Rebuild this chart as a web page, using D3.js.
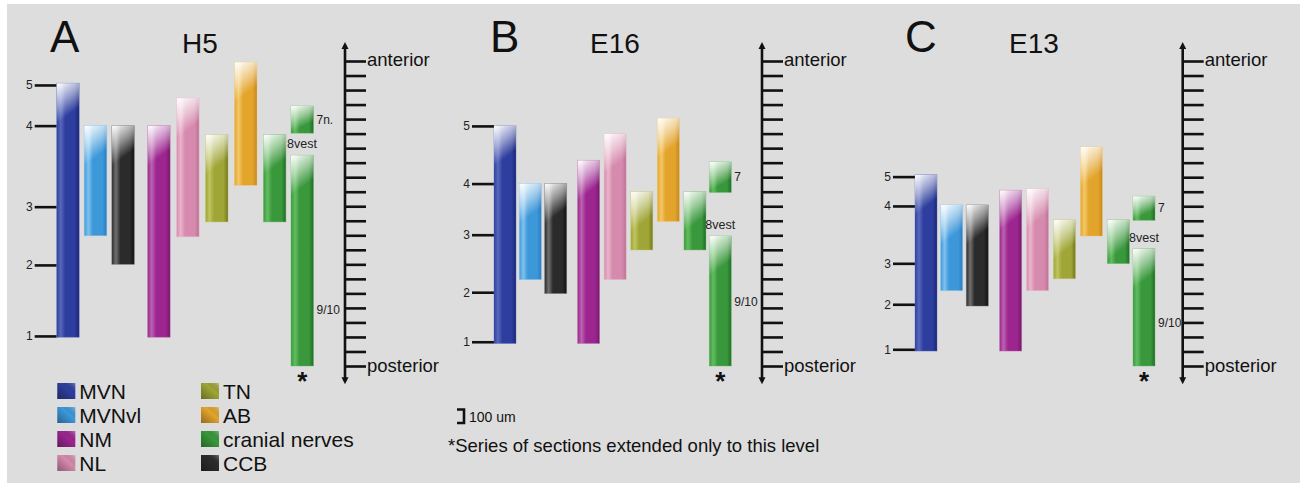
<!DOCTYPE html>
<html>
<head>
<meta charset="utf-8">
<script src="https://cdnjs.cloudflare.com/ajax/libs/d3/7.8.5/d3.min.js"></script>
<style>
  body { margin: 0; background: #fff; }
  svg { display: block; font-family: "Liberation Sans", Arial, sans-serif; }
</style>
</head>
<body>
<svg class="chart"></svg>
<script>
// levels are in 100 um sections counted from the posterior end of the series
var structures = ["MVN", "MVNvl", "CCB", "NM", "NL", "TN", "AB", "8vest", "7", "9/10"];
var colorKeys = ["MVN", "MVNvl", "CCB", "NM", "NL", "TN", "AB", "cranial", "cranial", "cranial"];

var h5Bottom = [1.98, 8.97, 7.0, 1.98, 8.9, 9.92, 12.44, 9.92, 16.03, 0];
var h5Top = [19.47, 16.55, 16.55, 16.55, 18.44, 15.93, 20.92, 15.93, 17.9, 14.51];
var e16Bottom = [1.55, 5.95, 4.99, 1.55, 5.95, 7.99, 9.95, 7.99, 11.95, 0];
var e16Top = [16.53, 12.56, 12.56, 14.16, 15.99, 12.0, 17.06, 12.0, 14.05, 8.95];
var e13Bottom = [1.03, 5.19, 4.13, 1.03, 5.19, 6.01, 8.95, 7.05, 10.03, 0];
var e13Top = [13.17, 11.09, 11.09, 12.1, 12.19, 10.06, 15.08, 10.06, 11.69, 8.08];

// left hand landmark ticks 1..5
var markLabels = ["1", "2", "3", "4", "5"];
var h5Marks = [2.07, 6.96, 10.97, 16.55, 19.35];
var e16Marks = [1.67, 5.08, 9.04, 12.56, 16.53];
var e13Marks = [1.15, 4.25, 7.07, 11.02, 13.04];

var rulerTicks = d3.range(0, 22);

var legendLeft = ["MVN", "MVNvl", "NM", "NL"];
var legendLeftKeys = ["MVN", "MVNvl", "NM", "NL"];
var legendRight = ["TN", "AB", "cranial nerves", "CCB"];
var legendRightKeys = ["TN", "AB", "cranial", "CCB"];

var colors = {
  MVN:     { light: "#5868bc", base: "#2e3e9e", dark: "#1b2676" },
  MVNvl:   { light: "#80c2ee", base: "#3d98da", dark: "#2a7cc0" },
  CCB:     { light: "#707070", base: "#2b2b2b", dark: "#121212" },
  NM:      { light: "#bb63ae", base: "#9c2590", dark: "#731a69" },
  NL:      { light: "#eab4cb", base: "#d68aad", dark: "#bd7193" },
  TN:      { light: "#c0c45e", base: "#9fa536", dark: "#72781f" },
  AB:      { light: "#f3c766", base: "#e3a42c", dark: "#c5881e" },
  cranial: { light: "#62bd60", base: "#3a983c", dark: "#226c28" }
};

// layout for the three panels
var slots = [0, 1, 2, 3.3, 4.35, 5.4, 6.45, 7.5, 8.5, 8.5];
var panels = [
  { letter: "A", stage: "H5", bottom: h5Bottom, top: h5Top, marks: h5Marks, n7: "7n.", label910: 3.86,
    barLeft: 56.7, barLast: 291, barW: 22.5, letterX: 50, stageX: 182, rulerX: 345 },
  { letter: "B", stage: "E16", bottom: e16Bottom, top: e16Top, marks: e16Marks, n7: "7", label910: 4.43,
    barLeft: 494, barLast: 709.3, barW: 22, letterX: 490, stageX: 590, rulerX: 762 },
  { letter: "C", stage: "E13", bottom: e13Bottom, top: e13Top, marks: e13Marks, n7: "7", label910: 2.98,
    barLeft: 915, barLast: 1133, barW: 22, letterX: 905, stageX: 1009, rulerX: 1182.7 }
];

var W = 1307, H = 483;
var svg = d3.select(".chart").attr("width", W).attr("height", H);

svg.append("rect").attr("x", 7).attr("y", 4).attr("width", 1293).attr("height", 479).attr("fill", "#dddddd");

// gradients
var defs = svg.append("defs");
Object.keys(colors).forEach(function(k) {
  var c = colors[k];
  var g = defs.append("linearGradient").attr("id", "g-" + k)
    .attr("x1", 0).attr("y1", 0).attr("x2", 1).attr("y2", 0);
  g.append("stop").attr("offset", "0%").attr("stop-color", c.base);
  g.append("stop").attr("offset", "18%").attr("stop-color", c.light);
  g.append("stop").attr("offset", "38%").attr("stop-color", c.base);
  g.append("stop").attr("offset", "80%").attr("stop-color", c.base);
  g.append("stop").attr("offset", "100%").attr("stop-color", c.dark);
});
var glow = defs.append("linearGradient").attr("id", "glow")
  .attr("x1", 0.15).attr("y1", 0).attr("x2", 0.55).attr("y2", 1);
glow.append("stop").attr("offset", "0%").attr("stop-color", "#fff").attr("stop-opacity", 0.95);
glow.append("stop").attr("offset", "40%").attr("stop-color", "#fff").attr("stop-opacity", 0.5);
glow.append("stop").attr("offset", "78%").attr("stop-color", "#fff").attr("stop-opacity", 0);
glow.append("stop").attr("offset", "100%").attr("stop-color", "#fff").attr("stop-opacity", 0);
var sw = defs.append("linearGradient").attr("id", "swglow")
  .attr("x1", 0).attr("y1", 1).attr("x2", 1).attr("y2", 0);
sw.append("stop").attr("offset", "0%").attr("stop-color", "#000").attr("stop-opacity", 0.35);
sw.append("stop").attr("offset", "60%").attr("stop-color", "#000").attr("stop-opacity", 0);
sw.append("stop").attr("offset", "100%").attr("stop-color", "#fff").attr("stop-opacity", 0.35);

var y = d3.scaleLinear().domain([0, 21]).range([366, 61]);

panels.forEach(function(p) {
  var g = svg.append("g");
  var x = d3.scaleLinear().domain([0, 8.5]).range([p.barLeft, p.barLast]);

  g.append("text").attr("x", p.letterX).attr("y", 52).attr("font-size", 44).attr("fill", "#111").text(p.letter);
  g.append("text").attr("x", p.stageX).attr("y", 53).attr("font-size", 28).attr("fill", "#111").text(p.stage);

  // landmark axis
  var axis = d3.axisLeft(y).tickValues(p.marks)
    .tickFormat(function(d, i) { return markLabels[i]; })
    .tickSize(22).tickSizeOuter(0).tickPadding(2);
  var ag = g.append("g").attr("transform", "translate(" + p.barLeft + ",0)").call(axis);
  ag.select(".domain").remove();
  ag.selectAll("line").attr("stroke", "#111").attr("stroke-width", 2.6);
  ag.selectAll("text").attr("font-size", 12).attr("fill", "#222").attr("font-family", "Liberation Sans, Arial, sans-serif");

  // bars
  var idx = d3.range(structures.length);
  var bars = g.selectAll(".bar").data(idx).enter().append("g").attr("class", "bar");
  bars.append("rect")
    .attr("x", function(i) { return x(slots[i]); })
    .attr("y", function(i) { return y(p.top[i]); })
    .attr("width", p.barW)
    .attr("height", function(i) { return y(p.bottom[i]) - y(p.top[i]); })
    .attr("fill", function(i) { return "url(#g-" + colorKeys[i] + ")"; })
    .attr("stroke", function(i) { return colors[colorKeys[i]].light; })
    .attr("stroke-opacity", 0.5).attr("stroke-width", 0.8);
  bars.append("rect")
    .attr("x", function(i) { return x(slots[i]); })
    .attr("y", function(i) { return y(p.top[i]); })
    .attr("width", p.barW)
    .attr("height", function(i) { return Math.min(42, y(p.bottom[i]) - y(p.top[i])); })
    .attr("fill", "url(#glow)");

  // cranial nerve labels
  var i7 = 8, i910 = 9;
  g.append("text").attr("x", x(slots[i7]) + p.barW + 3)
    .attr("y", (y(p.top[i7]) + y(p.bottom[i7])) / 2 + 4)
    .attr("font-size", 12).attr("fill", "#222").text(p.n7);
  g.append("text").attr("x", x(slots[i7]) - 4)
    .attr("y", y(p.top[i910]) - 7)
    .attr("font-size", 12.5).attr("fill", "#222").text("8vest");
  g.append("text").attr("x", x(slots[i910]) + p.barW + 3)
    .attr("y", y(p.label910) + 4)
    .attr("font-size", 12).attr("fill", "#222").text("9/10");
  g.append("text").attr("x", x(slots[i910]) + p.barW / 2).attr("y", y(0) + 24)
    .attr("text-anchor", "middle").attr("font-size", 26).attr("font-weight", "bold")
    .attr("fill", "#111").text("*");

  // 100 um ruler
  var rx = p.rulerX;
  g.append("line").attr("x1", rx).attr("x2", rx).attr("y1", y(22.1)).attr("y2", y(-1.05))
    .attr("stroke", "#111").attr("stroke-width", 2.6);
  g.append("path").attr("d", "M" + (rx - 3.5) + "," + (y(22.1) + 4) + "L" + rx + "," + (y(22.1) - 3) + "L" + (rx + 3.5) + "," + (y(22.1) + 4) + "Z").attr("fill", "#111");
  g.append("path").attr("d", "M" + (rx - 3.5) + "," + (y(-1.05) - 4) + "L" + rx + "," + (y(-1.05) + 3) + "L" + (rx + 3.5) + "," + (y(-1.05) - 4) + "Z").attr("fill", "#111");
  var raxis = d3.axisRight(y).tickValues(rulerTicks).tickSize(21).tickSizeOuter(0).tickFormat("");
  var rg = g.append("g").attr("transform", "translate(" + rx + ",0)").call(raxis);
  rg.select(".domain").remove();
  rg.selectAll("line").attr("stroke", "#111").attr("stroke-width", 2.6);
  g.append("text").attr("x", rx + 22).attr("y", y(21) + 5).attr("font-size", 18.5).attr("fill", "#111").text("anterior");
  g.append("text").attr("x", rx + 22).attr("y", y(0) + 6).attr("font-size", 18.5).attr("fill", "#111").text("posterior");
});

// legend
function legendCol(names, keys, x0) {
  var lg = svg.append("g");
  var it = lg.selectAll("g").data(names).enter().append("g")
    .attr("transform", function(d, i) { return "translate(" + x0 + "," + (383 + i * 24) + ")"; });
  it.append("rect").attr("width", 18).attr("height", 16)
    .attr("fill", function(d, i) { return colors[keys[i]].base; });
  it.append("rect").attr("width", 18).attr("height", 16).attr("fill", "url(#swglow)");
  it.append("text").attr("x", 22).attr("y", 15.5).attr("font-size", 21).attr("fill", "#111")
    .text(function(d) { return d; });
}
legendCol(legendLeft, legendLeftKeys, 57.3);
legendCol(legendRight, legendRightKeys, 201);

// scale bar and footnote
var sb = svg.append("g");
sb.append("path").attr("d", "M457," + (423 - (y(0) - y(1)) + 1) + "H464V423H457")
  .attr("fill", "none").attr("stroke", "#111").attr("stroke-width", 2.6);
sb.append("text").attr("x", 469).attr("y", 421.5).attr("font-size", 14).attr("fill", "#111").text("100 um");
svg.append("text").attr("x", 448).attr("y", 451.5).attr("font-size", 18.5).attr("fill", "#111")
  .text("*Series of sections extended only to this level");
</script>
</body>
</html>
